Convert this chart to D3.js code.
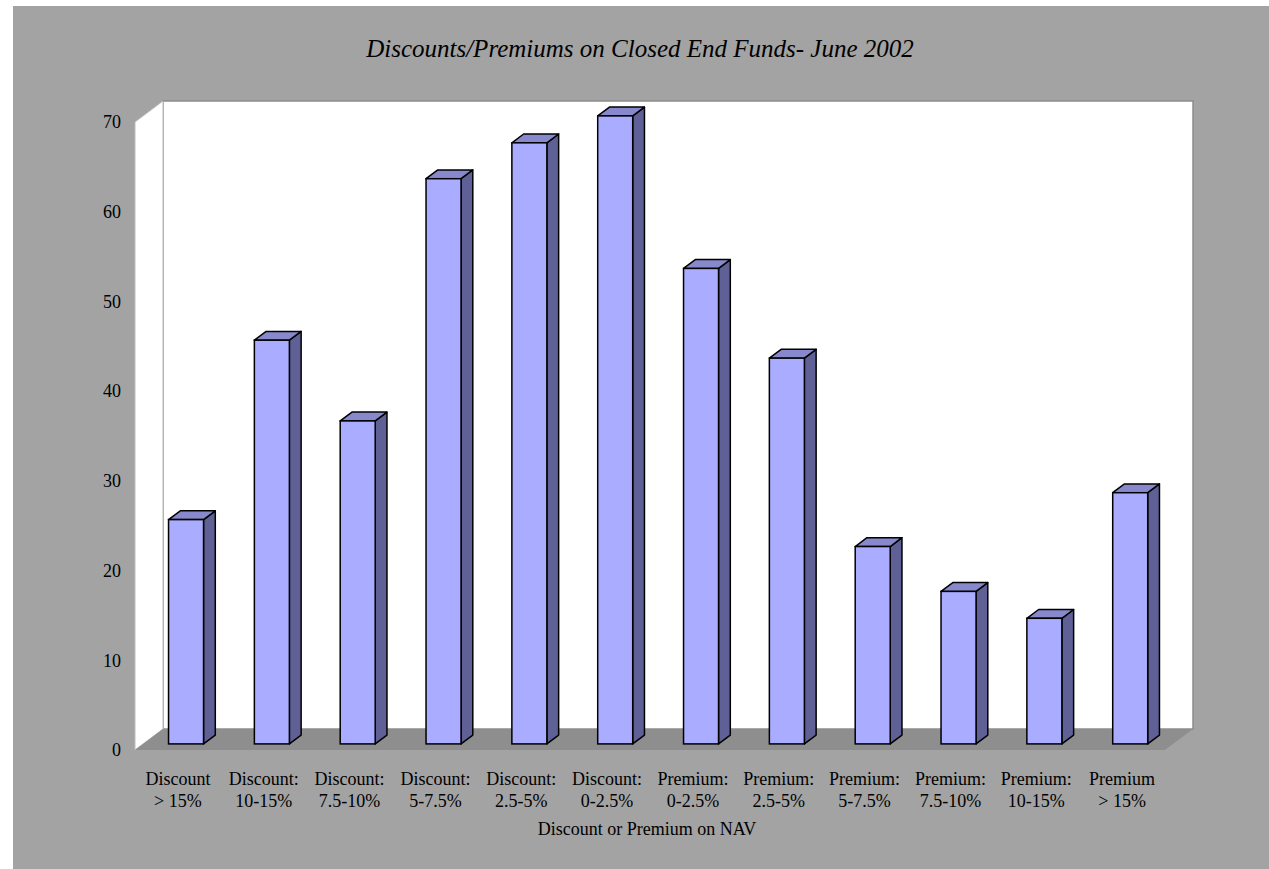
<!DOCTYPE html>
<html>
<head>
<meta charset="utf-8">
<script src="https://cdn.jsdelivr.net/npm/d3@7"></script>
<style>
  body { margin: 0; background: #ffffff; }
</style>
</head>
<body>
<script>
// Categories, two lines each
var catLine1 = ["Discount", "Discount:", "Discount:", "Discount:", "Discount:", "Discount:",
                "Premium:", "Premium:", "Premium:", "Premium:", "Premium:", "Premium"]
var catLine2 = ["> 15%", "10-15%", "7.5-10%", "5-7.5%", "2.5-5%", "0-2.5%",
                "0-2.5%", "2.5-5%", "5-7.5%", "7.5-10%", "10-15%", "> 15%"]
var values = [25, 45, 36, 63, 67, 70, 53, 43, 22, 17, 14, 28]
var yTicks = [0, 10, 20, 30, 40, 50, 60, 70]

var FONT = "'Liberation Serif', 'Times New Roman', serif"

function main() {
    var width = 1269, height = 869
    // front plane of the plot box and depth offset
    var left = 135, right = 1165, bottom = 750, top = 122
    var depthX = 28, depthY = -21

    var svg = d3.select('body').append('svg')
        .attr('width', width)
        .attr('height', height)
        .style('font-family', FONT)

    // Grey chart background
    svg.append('rect')
        .attr('x', 13).attr('y', 6)
        .attr('width', width - 13).attr('height', height - 6)
        .attr('fill', '#a3a3a3')

    var idx = d3.range(values.length)
    var xScale = d3.scaleBand().domain(idx).range([left, right])
    var yScale = d3.scaleLinear().domain([0, 70]).range([bottom, top])

    // Back wall
    svg.append('rect')
        .attr('x', left + depthX).attr('y', top + depthY)
        .attr('width', right - left).attr('height', bottom - top)
        .attr('fill', '#ffffff')
        .attr('stroke', '#8c8c8c').attr('stroke-width', 1.5)

    // Side wall
    var side = [[left, bottom], [left, top], [left + depthX, top + depthY], [left + depthX, bottom + depthY]]
    svg.append('polygon')
        .attr('points', side.map(function (p) { return p.join(',') }).join(' '))
        .attr('fill', '#ffffff')
        .attr('stroke', '#bdbdbd').attr('stroke-width', 1)

    // Floor
    var floor = [[left, bottom], [right, bottom], [right + depthX, bottom + depthY], [left + depthX, bottom + depthY]]
    svg.append('polygon')
        .attr('points', floor.map(function (p) { return p.join(',') }).join(' '))
        .attr('fill', '#8e8e8e')

    // Bars: sit in the middle of the depth
    var z0 = 0.29, z1 = 0.71
    var barW = 35
    var ox = depthX * z0, oy = depthY * z0
    var bdx = depthX * (z1 - z0), bdy = depthY * (z1 - z0)

    var bar = svg.selectAll('g.bar')
        .data(idx)
        .enter().append('g')
        .attr('class', 'bar')

    function pts(arr) { return arr.map(function (p) { return p.join(',') }).join(' ') }

    bar.each(function (i) {
        var g = d3.select(this)
        var x0 = xScale(i) + (xScale.bandwidth() - barW) / 2 + ox
        var x1 = x0 + barW
        var yb = yScale(0) + oy
        var yt = yScale(values[i]) + oy
        // side face
        g.append('polygon')
            .attr('points', pts([[x1, yb], [x1, yt], [x1 + bdx, yt + bdy], [x1 + bdx, yb + bdy]]))
            .attr('fill', '#5f6095').attr('stroke', '#000').attr('stroke-width', 1.5)
            .attr('stroke-linejoin', 'round')
        // top face
        g.append('polygon')
            .attr('points', pts([[x0, yt], [x1, yt], [x1 + bdx, yt + bdy], [x0 + bdx, yt + bdy]]))
            .attr('fill', '#8789cc').attr('stroke', '#000').attr('stroke-width', 1.5)
            .attr('stroke-linejoin', 'round')
        // front face
        g.append('rect')
            .attr('x', x0).attr('y', yt)
            .attr('width', barW).attr('height', yb - yt)
            .attr('fill', '#aaacff').attr('stroke', '#000').attr('stroke-width', 1.5)
    })

    // Y tick labels
    svg.selectAll('text.ytick')
        .data(yTicks)
        .enter().append('text')
        .attr('class', 'ytick')
        .attr('x', 121)
        .attr('y', function (d) { return yScale(d) })
        .attr('dy', '0.35em')
        .attr('text-anchor', 'end')
        .style('font-family', FONT)
        .style('font-size', '18px')
        .text(function (d) { return d })

    // X category labels
    var xl = svg.selectAll('text.xlab')
        .data(idx)
        .enter().append('text')
        .attr('class', 'xlab')
        .attr('text-anchor', 'middle')
        .style('font-family', FONT)
        .style('font-size', '18px')
    xl.append('tspan')
        .attr('x', function (i) { return xScale(i) + xScale.bandwidth() / 2 })
        .attr('y', 785)
        .text(function (i) { return catLine1[i] })
    xl.append('tspan')
        .attr('x', function (i) { return xScale(i) + xScale.bandwidth() / 2 })
        .attr('y', 807)
        .text(function (i) { return catLine2[i] })

    // Axis title
    svg.append('text')
        .attr('x', 647).attr('y', 835)
        .attr('text-anchor', 'middle')
        .style('font-family', FONT)
        .style('font-size', '18px')
        .text('Discount or Premium on NAV')

    // Chart title
    svg.append('text')
        .attr('x', 640).attr('y', 57)
        .attr('text-anchor', 'middle')
        .style('font-family', FONT)
        .style('font-size', '25px')
        .style('font-style', 'italic')
        .text('Discounts/Premiums on Closed End Funds- June 2002')
}
main()
</script>
</body>
</html>
